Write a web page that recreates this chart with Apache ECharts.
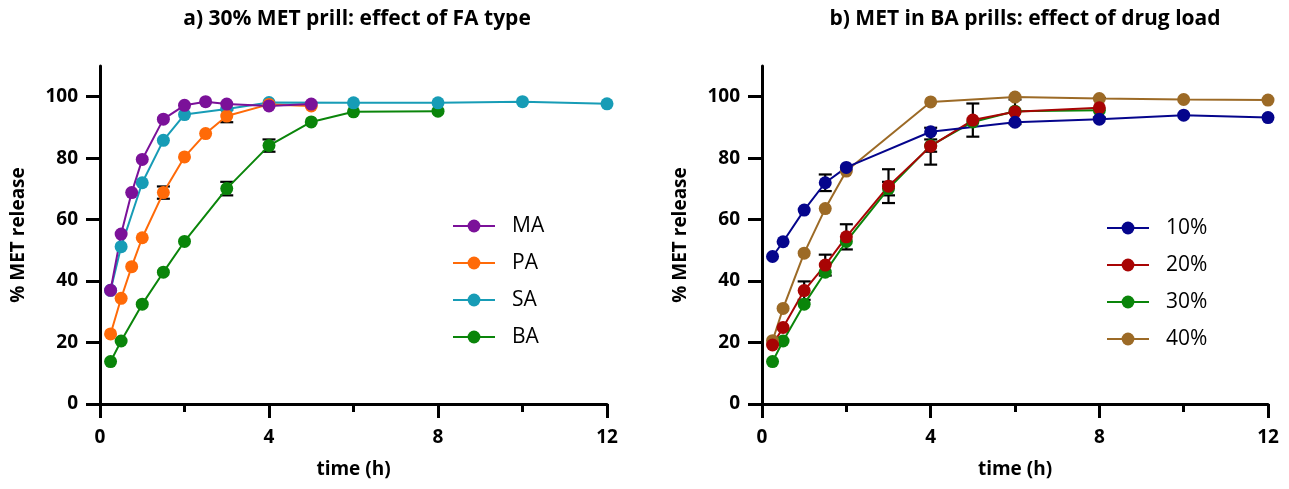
<!DOCTYPE html>
<html><head><meta charset="utf-8">
<script src="https://cdn.jsdelivr.net/npm/echarts@6/dist/echarts.min.js"></script>
<style>html,body{margin:0;padding:0;background:#fff}#c{width:1289px;height:489px}</style>
</head><body><div id="c"></div>
<script>
// ---- data ----
const titleA = 'a) 30% MET prill: effect of FA type';
const titleB = 'b) MET in BA prills: effect of drug load';
const xName = 'time (h)';
const yName = '% MET release';
const yTickValues = [0, 20, 40, 60, 80, 100];

// Panel a
const MA_t = [0.25, 0.5, 0.75, 1, 1.5, 2, 2.5, 3, 4, 5];
const MA_v = [37, 55.3, 68.8, 79.6, 92.7, 97.2, 98.4, 97.6, 97, 97.6];
const MA_e = [0, 0, 0, 0, 0, 0, 0, 0, 0, 0];
const PA_t = [0.25, 0.5, 0.75, 1, 1.5, 2, 2.5, 3, 4, 5];
const PA_v = [22.8, 34.4, 44.7, 54.1, 68.8, 80.4, 88, 93.7, 97.5, 97];
const PA_e = [0, 0, 0, 0, 2, 0, 0, 2, 0, 0];
const SA_t = [0.25, 0.5, 1, 1.5, 2, 3, 4, 6, 8, 10, 12];
const SA_v = [37, 51.2, 72, 85.8, 94.2, 96, 98.1, 98, 98, 98.4, 97.7];
const SA_e = [0, 0, 0, 0, 0, 0, 0, 0, 0, 0, 0];
const BA_t = [0.25, 0.5, 1, 1.5, 2, 3, 4, 5, 6, 8];
const BA_v = [13.8, 20.5, 32.5, 42.9, 52.9, 70.1, 84.1, 91.8, 95.1, 95.3];
const BA_e = [0, 0, 0, 0, 0, 2.2, 2, 0, 0, 0];

// Panel b
const L10_t = [0.25, 0.5, 1, 1.5, 2, 4, 6, 8, 10, 12];
const L10_v = [48, 52.8, 63.1, 72, 77, 88.6, 91.7, 92.7, 94, 93.2];
const L10_e = [0, 0, 0, 2.7, 0, 0, 0, 0, 0, 0];
const L20_t = [0.25, 0.5, 1, 1.5, 2, 3, 4, 5, 6, 8];
const L20_v = [19.2, 24.9, 36.9, 45.2, 54.4, 70.9, 83.9, 92.4, 95.1, 96.4];
const L20_e = [0, 0, 3, 3.4, 4.1, 5.5, 6, 5.4, 4, 3.2];
const L30_t = [0.25, 0.5, 1, 1.5, 2, 3, 4, 5, 6, 8];
const L30_v = [13.8, 20.5, 32.5, 42.9, 52.9, 70.1, 84.1, 91.8, 95.3, 95.6];
const L30_e = [0, 0, 0, 0, 0, 2.2, 2, 0, 0, 0];
const L40_t = [0.25, 0.5, 1, 1.5, 2, 4, 6, 8, 10, 12];
const L40_v = [20.6, 31.1, 49.1, 63.6, 75.8, 98.3, 99.9, 99.4, 99.1, 98.9];
const L40_e = [0, 0, 0, 0, 0, 0, 0, 0, 0, 0];

// ---- styling ----
const FONT = 'Open Sans';
const C = {MA:'#7B1199', PA:'#FF6A08', SA:'#179CB6', BA:'#0A850A',
           L10:'#05058C', L20:'#A80404', L30:'#0A850A', L40:'#9C6A26'};

function pts(t, v){ return t.map((x,i)=>[x, v[i]]); }
function errPts(t, v, e){ const r=[]; t.forEach((x,i)=>{ if(e[i]>0) r.push([x, v[i], e[i]]); }); return r; }

function lineSeries(name, t, v, color, idx){
  return {type:'line', name, xAxisIndex:idx, yAxisIndex:idx, data:pts(t,v),
    symbol:'circle', symbolSize:13, showSymbol:true,
    lineStyle:{color, width:2}, itemStyle:{color}, z:3, animation:false};
}
function errSeries(t, v, e, idx){
  return {type:'custom', xAxisIndex:idx, yAxisIndex:idx, data:errPts(t,v,e), z:2, animation:false,
    silent:true,
    renderItem:function(params, api){
      const x = api.value(0), y = api.value(1), d = api.value(2);
      const top = api.coord([x, y + d]), bot = api.coord([x, y - d]);
      const hw = 6.5;
      const st = {stroke:'#000', lineWidth:2.2};
      return {type:'group', children:[
        {type:'line', shape:{x1:top[0], y1:top[1], x2:bot[0], y2:bot[1]}, style:st},
        {type:'line', shape:{x1:top[0]-hw, y1:top[1], x2:top[0]+hw, y2:top[1]}, style:st},
        {type:'line', shape:{x1:bot[0]-hw, y1:bot[1], x2:bot[0]+hw, y2:bot[1]}, style:st}
      ]};
    }};
}

function xAxis(idx){
  return {type:'value', gridIndex:idx, min:0, max:12, interval:4,
    name:xName, nameLocation:'middle', nameGap:56,
    nameTextStyle:{fontFamily:FONT, fontWeight:'bold', fontSize:19, color:'#000'},
    axisLine:{lineStyle:{color:'#000', width:3}},
    axisTick:{inside:false, length:14, lineStyle:{color:'#000', width:3}},
    minorTick:{show:true, splitNumber:2, length:8, lineStyle:{color:'#000', width:3}},
    axisLabel:{margin:24, fontFamily:FONT, fontWeight:'bold', fontSize:19, color:'#000'},
    splitLine:{show:false}};
}
function yAxis(idx){
  return {type:'value', gridIndex:idx, min:0, max:110, interval:20,
    name:yName, nameLocation:'middle', nameGap:72, nameRotate:90,
    nameTextStyle:{fontFamily:FONT, fontWeight:'bold', fontSize:19, color:'#000'},
    axisLine:{show:true, lineStyle:{color:'#000', width:3}},
    axisTick:{show:true, inside:false, length:14, customValues:yTickValues, lineStyle:{color:'#000', width:3}},
    axisLabel:{margin:22, fontFamily:FONT, fontWeight:'bold', fontSize:19, color:'#000',
      customValues:yTickValues, formatter:v=> (v>100? '' : String(v))},
    splitLine:{show:false}};
}

const legendCommon = {orient:'vertical', itemWidth:42, itemHeight:16, itemGap:13,
  textStyle:{fontFamily:FONT, fontSize:21, color:'#000', lineHeight:24, padding:[0,0,0,12]},
  selectedMode:false};

const option = {
  backgroundColor:'#fff',
  animation:false,
  title:[
    {text:titleA, left:352, top:4, textAlign:'center',
     textStyle:{fontFamily:FONT, fontWeight:'bold', fontSize:21, color:'#000'}},
    {text:titleB, left:1020, top:4, textAlign:'center',
     textStyle:{fontFamily:FONT, fontWeight:'bold', fontSize:21, color:'#000'}}
  ],
  grid:[
    {left:100, top:66, width:507, height:338},
    {left:762, top:66, width:506, height:338}
  ],
  xAxis:[xAxis(0), xAxis(1)],
  yAxis:[yAxis(0), yAxis(1)],
  legend:[
    Object.assign({left:447, top:209, data:['MA','PA','SA','BA']}, legendCommon),
    Object.assign({left:1101, top:211, data:['10%','20%','30%','40%']}, legendCommon)
  ],
  series:[
    errSeries(BA_t, BA_v, BA_e, 0),
    errSeries(SA_t, SA_v, SA_e, 0),
    errSeries(PA_t, PA_v, PA_e, 0),
    errSeries(MA_t, MA_v, MA_e, 0),
    lineSeries('BA', BA_t, BA_v, C.BA, 0),
    lineSeries('SA', SA_t, SA_v, C.SA, 0),
    lineSeries('PA', PA_t, PA_v, C.PA, 0),
    lineSeries('MA', MA_t, MA_v, C.MA, 0),
    errSeries(L30_t, L30_v, L30_e, 1),
    errSeries(L40_t, L40_v, L40_e, 1),
    errSeries(L20_t, L20_v, L20_e, 1),
    errSeries(L10_t, L10_v, L10_e, 1),
    lineSeries('30%', L30_t, L30_v, C.L30, 1),
    lineSeries('40%', L40_t, L40_v, C.L40, 1),
    lineSeries('20%', L20_t, L20_v, C.L20, 1),
    lineSeries('10%', L10_t, L10_v, C.L10, 1)
  ]
};
const chart = echarts.init(document.getElementById('c'), null, {renderer:'canvas'});
chart.setOption(option);
</script></body></html>
